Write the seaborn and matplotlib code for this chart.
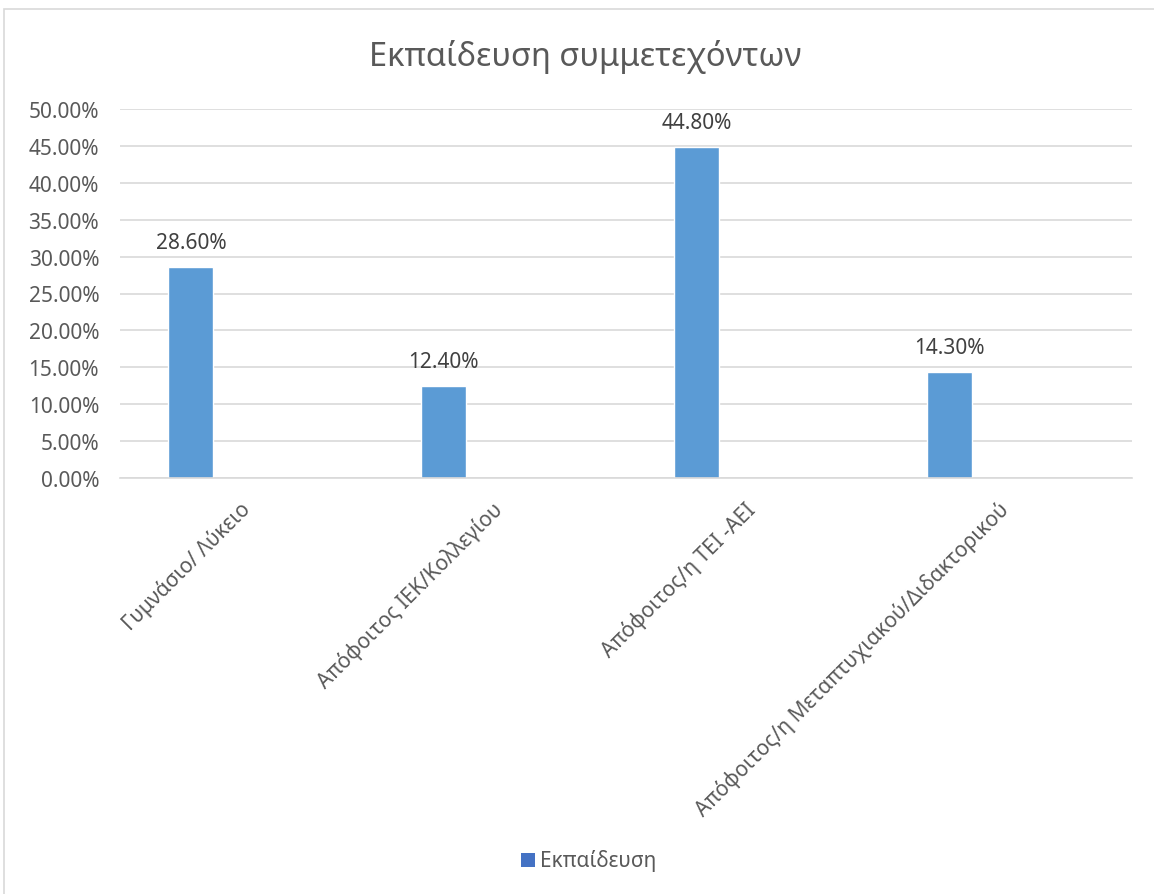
import matplotlib
matplotlib.use("Agg")
import matplotlib.pyplot as plt
import matplotlib.transforms as mtransforms
import seaborn as sns
import pandas as pd
from matplotlib.patches import Rectangle
from matplotlib.ticker import FuncFormatter, MultipleLocator

categories = [
    "Γυμνάσιο/ Λύκειο",
    "Απόφοιτος ΙΕΚ/Κολλεγίου",
    "Απόφοιτος/η ΤΕΙ -ΑΕΙ",
    "Απόφοιτος/η Μεταπτυχιακού/Διδακτορικού",
]
values = [28.60, 12.40, 44.80, 14.30]
series_name = "Εκπαίδευση"
title = "Εκπαίδευση συμμετεχόντων"

df = pd.DataFrame({"category": categories, "value": values})

sns.set_theme(style="white")
plt.rcParams["font.family"] = ["Noto Sans", "DejaVu Sans"]

text_color = "#595959"
bar_color = "#5B9BD5"
legend_color = "#4472C4"
grid_color = "#D9D9D9"

fig = plt.figure(figsize=(11.54, 8.95), dpi=100)
ax = fig.add_axes([120 / 1154, 1 - 479 / 895, 1012 / 1154, 369 / 895])

sns.barplot(data=df, x="category", y="value", color=bar_color,
            width=0.178, saturation=1, ax=ax)

# shift bars left within their category slot
shift = -0.22
for p in ax.patches:
    p.set_x(p.get_x() + shift)

for p, v in zip(ax.patches, values):
    ax.text(p.get_x() + p.get_width() / 2, v + 1.9, f"{v:.2f}%",
            ha="center", va="bottom", fontsize=15, color="#404040")

ax.set_ylim(0, 50)
ax.set_xlim(-0.5, len(categories) - 0.5)
ax.yaxis.set_major_locator(MultipleLocator(5))
ax.yaxis.set_major_formatter(FuncFormatter(lambda y, _: f"{y:.2f}%"))
ax.grid(axis="y", color=grid_color, linewidth=1.2)
ax.set_axisbelow(True)
for s in ["top", "right", "left"]:
    ax.spines[s].set_visible(False)
ax.spines["bottom"].set_color(grid_color)
ax.spines["bottom"].set_linewidth(1.2)
ax.set_xlabel("")
ax.set_ylabel("")
ax.tick_params(axis="y", labelsize=15, labelcolor=text_color, length=0, pad=15)
ax.tick_params(axis="x", labelsize=15, labelcolor=text_color, length=0, pad=10)
offset = mtransforms.ScaledTranslation(-0.075, -0.06, fig.dpi_scale_trans)
for lbl in ax.get_xticklabels():
    lbl.set_rotation(45)
    lbl.set_ha("right")
    lbl.set_rotation_mode("anchor")
    lbl.set_transform(lbl.get_transform() + offset)

fig.text(585 / 1154, 1 - 57 / 895, title, ha="center", va="center",
         fontsize=23.5, color=text_color)

# legend
fig.patches.append(Rectangle((521 / 1154, 1 - 868 / 895), 14 / 1154, 14 / 895,
                             transform=fig.transFigure, facecolor=legend_color,
                             edgecolor="none"))
fig.text(540 / 1154, 1 - 861 / 895, series_name, ha="left", va="center",
         fontsize=15, color=text_color)

# chart border
fig.patches.append(Rectangle((4 / 1154, -0.01), 1.02, 1 - 10 / 895 + 0.01,
                             transform=fig.transFigure, facecolor="none",
                             edgecolor="#D9D9D9", linewidth=1.2))

fig.savefig("out.png", dpi=100, facecolor="white")
